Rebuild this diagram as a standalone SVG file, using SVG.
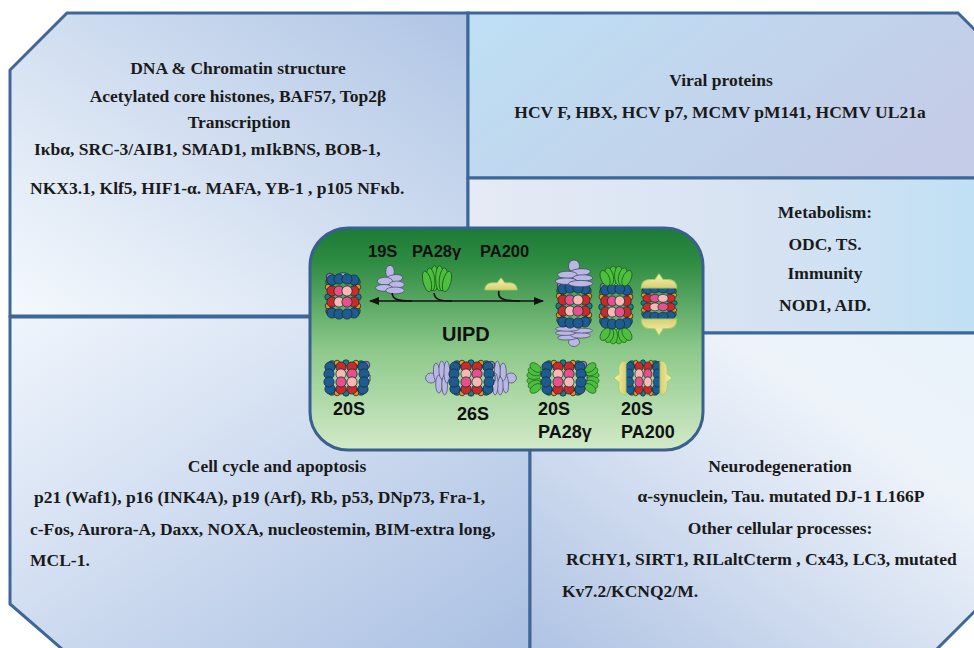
<svg xmlns="http://www.w3.org/2000/svg" width="974" height="648" viewBox="0 0 974 648">
<style>
.panel{stroke:#3d6699;stroke-width:3;stroke-linejoin:miter}
.t{font-family:"Liberation Serif","Times New Roman",serif;font-size:17.5px;font-weight:bold;fill:#1a1a1a}
.c{text-anchor:middle}
.lab{font-family:"Liberation Sans",Arial,sans-serif;font-weight:bold;fill:#111}
.conn{fill:none;stroke:#111;stroke-width:1.6}
</style>
<defs>
<linearGradient id="gDna" x1="0" y1="1" x2="1" y2="0"><stop offset="0" stop-color="#f5f9fd"/><stop offset="1" stop-color="#b0c5e5"/></linearGradient>
<linearGradient id="gViral" x1="0" y1="0" x2="1" y2="0.4"><stop offset="0" stop-color="#bee0f4"/><stop offset="1" stop-color="#c4cce7"/></linearGradient>
<linearGradient id="gMeta" x1="0" y1="0" x2="1" y2="0"><stop offset="0" stop-color="#e6ebf5"/><stop offset="0.55" stop-color="#d6e2f2"/><stop offset="1" stop-color="#bde0f5"/></linearGradient>
<linearGradient id="gCell" x1="0" y1="0" x2="1" y2="1"><stop offset="0" stop-color="#f0f5fc"/><stop offset="1" stop-color="#a9bfe2"/></linearGradient>
<linearGradient id="gNeuro" x1="1" y1="0" x2="0" y2="1"><stop offset="0" stop-color="#e8f2fa"/><stop offset="0.3" stop-color="#eef3fa"/><stop offset="1" stop-color="#aec2e3"/></linearGradient>
<linearGradient id="gGreen" x1="0" y1="0" x2="0" y2="1"><stop offset="0" stop-color="#1b7a36"/><stop offset="0.15" stop-color="#2e8b42"/><stop offset="0.55" stop-color="#8dc98a"/><stop offset="1" stop-color="#d2eac8"/></linearGradient>
<linearGradient id="gYel" x1="0" y1="0" x2="0" y2="1"><stop offset="0" stop-color="#f8f3b4"/><stop offset="1" stop-color="#d9cd72"/></linearGradient>
<marker id="ah" viewBox="0 0 10 10" refX="9" refY="5" markerWidth="10" markerHeight="10" orient="auto-start-reverse" markerUnits="userSpaceOnUse"><path d="M0,1 L10,5 L0,9 z" fill="#111"/></marker>
<g id="core" stroke="#1b2b3b" stroke-width="0.8">
<circle cx="-13" cy="-15" r="4.2" fill="#16807a"/><circle cx="13" cy="-15" r="4.2" fill="#16807a"/>
<circle cx="-13" cy="14" r="4.2" fill="#16807a"/><circle cx="13" cy="14" r="4.2" fill="#16807a"/>
<circle cx="-13" cy="-20" r="3.8" fill="#9d7fc6"/>
<path d="M-3,-24 L3,-24 L2,-16 L-2,-16Z" fill="#9cc8e6"/>
<circle cx="-15" cy="-10" r="2.8" fill="#f0901e"/><circle cx="15" cy="-10" r="2.8" fill="#f0901e"/>
<circle cx="-15" cy="9" r="2.8" fill="#f0901e"/><circle cx="15" cy="9" r="2.8" fill="#f0901e"/>
<circle cx="-15" cy="0" r="3.2" fill="#16807a"/><circle cx="15" cy="0" r="3.2" fill="#16807a"/>
<circle cx="-11" cy="-6" r="5.1" fill="#c92a2a"/><circle cx="11" cy="-6" r="5.1" fill="#c92a2a"/><circle cx="-4" cy="-6" r="5.1" fill="#e8508c"/><circle cx="4" cy="-6" r="5.1" fill="#f7b8b4"/>
<circle cx="-11" cy="5" r="5.1" fill="#c92a2a"/><circle cx="11" cy="5" r="5.1" fill="#c92a2a"/><circle cx="-4" cy="5" r="5.1" fill="#f7b8b4"/><circle cx="4" cy="5" r="5.1" fill="#e8508c"/>
<circle cx="-11" cy="-17" r="5.1" fill="#1d5b90"/><circle cx="11" cy="-17" r="5.1" fill="#1d5b90"/><circle cx="-4" cy="-18" r="5.1" fill="#1d5b90"/><circle cx="4" cy="-18" r="5.1" fill="#1d5b90"/>
<circle cx="-11" cy="16" r="5.1" fill="#1d5b90"/><circle cx="11" cy="16" r="5.1" fill="#1d5b90"/><circle cx="-4" cy="17" r="5.1" fill="#1d5b90"/><circle cx="4" cy="17" r="5.1" fill="#1d5b90"/>
</g>
<g id="lid" fill="#b8b8e2" stroke="#45456a" stroke-width="0.8">
<ellipse cx="0" cy="-25" rx="5" ry="7.5"/>
<ellipse cx="5" cy="-17" rx="10" ry="4.5" transform="rotate(-8 5 -17)"/>
<ellipse cx="-6" cy="-14" rx="9" ry="4.5"/>
<ellipse cx="8" cy="-10" rx="9" ry="4"/>
<ellipse cx="-7" cy="-6" rx="10" ry="4"/>
<ellipse cx="6" cy="-3" rx="11" ry="4"/>
</g>
<g id="pa28" fill="#4cbf3e" stroke="#1c5a1c" stroke-width="0.8">
<ellipse cx="-2.5" cy="-14" rx="3.8" ry="12"/>
<ellipse cx="2.5" cy="-14" rx="3.8" ry="12"/>
<ellipse cx="-6" cy="-13" rx="3.8" ry="11" transform="rotate(-7 -6 -13)"/>
<ellipse cx="6" cy="-13" rx="3.8" ry="11" transform="rotate(7 6 -13)"/>
<ellipse cx="-9.5" cy="-11" rx="3.8" ry="10" transform="rotate(-14 -9.5 -11)"/>
<ellipse cx="9.5" cy="-11" rx="3.8" ry="10" transform="rotate(14 9.5 -11)"/>
</g>
<g id="pa200"><path d="M-17,0 C-17,-5 -13,-6.5 -8,-6.5 L-4,-6.5 L0,-11 L4,-6.5 L8,-6.5 C13,-6.5 17,-5 17,0 Z" fill="url(#gYel)" stroke="#9ccf5a" stroke-width="0.8"/></g>
</defs>

<g id="panel-dna">
<polygon class="panel" points="67,13 468,13 468,316 10,316 10,70" fill="url(#gDna)"/>
<text class="t c" x="238" y="74">DNA &amp; Chromatin structure</text>
<text class="t c" x="238" y="102">Acetylated core histones, BAF57, Top2β</text>
<text class="t c" x="239" y="128">Transcription</text>
<text class="t" x="34" y="155">Iκbα, SRC-3/AIB1, SMAD1, mIkBNS, BOB-1,</text>
<text class="t" x="30" y="194">NKX3.1, Klf5, HIF1-α. MAFA, YB-1 , p105 NFκb.</text>
</g>

<g id="panel-viral">
<polygon class="panel" points="468,13 958,13 1010,65 1010,178 468,178" fill="url(#gViral)"/>
<text class="t c" x="721" y="86">Viral proteins</text>
<text class="t c" x="720" y="118">HCV F, HBX, HCV p7, MCMV pM141, HCMV UL21a</text>
</g>

<g id="panel-metabolism">
<polygon class="panel" points="468,178 1010,178 1010,333 468,333" fill="url(#gMeta)"/>
<text class="t c" x="825" y="218">Metabolism:</text>
<text class="t c" x="825" y="250">ODC, TS.</text>
<text class="t c" x="825" y="279">Immunity</text>
<text class="t c" x="825" y="311">NOD1, AID.</text>
</g>

<g id="panel-cellcycle">
<polygon class="panel" points="10,317 530,317 530,662 77,662 10,604" fill="url(#gCell)"/>
<text class="t c" x="277" y="472">Cell cycle and apoptosis</text>
<text class="t" x="34" y="503">p21 (Waf1), p16 (INK4A), p19 (Arf), Rb, p53, DNp73, Fra-1,</text>
<text class="t" x="30" y="535">c-Fos, Aurora-A, Daxx, NOXA, nucleostemin, BIM-extra long,</text>
<text class="t" x="30" y="566">MCL-1.</text>
</g>

<g id="panel-neuro">
<polygon class="panel" points="530,333 1010,333 1010,576 924,662 530,662" fill="url(#gNeuro)"/>
<text class="t c" x="780" y="472">Neurodegeneration</text>
<text class="t c" x="781" y="502">α-synuclein, Tau. mutated DJ-1 L166P</text>
<text class="t c" x="780" y="534">Other cellular processes:</text>
<text class="t" x="566" y="565">RCHY1, SIRT1, RILaltCterm , Cx43, LC3, mutated</text>
<text class="t" x="562" y="597">Kv7.2/KCNQ2/M.</text>
</g>

<g id="center-box">
<rect x="310" y="228" width="393" height="222" rx="38" ry="38" fill="url(#gGreen)" stroke="#3a6090" stroke-width="3"/>
<g id="top-labels">
<text class="lab" x="368" y="257" font-size="16.5">19S</text>
<text class="lab" x="412" y="257" font-size="16.5">PA28γ</text>
<text class="lab" x="480" y="257" font-size="16.5">PA200</text>
<text class="lab" x="442" y="341" font-size="20">UIPD</text>
</g>
<g id="free-20S"><use href="#core" transform="translate(343,297)"/></g>
<g id="free-19S"><use href="#lid" transform="translate(390,293) scale(0.85)"/></g>
<g id="free-PA28g"><use href="#pa28" transform="translate(437,293) scale(1.05,1.05)"/></g>
<g id="free-PA200"><use href="#pa200" transform="translate(501,290) scale(0.95,1.1)"/></g>

<g id="v-26S">
<use href="#lid" transform="translate(574,327) rotate(180) scale(1.1,0.6)"/>
<use href="#core" transform="translate(574,306)"/>
<use href="#lid" transform="translate(574,286) scale(1.1,0.8)"/>
</g>
<g id="v-20S-PA28g">
<use href="#pa28" transform="translate(616,327) rotate(180) scale(1.15,0.65)"/>
<use href="#core" transform="translate(616,307) scale(0.95,1)"/>
<use href="#pa28" transform="translate(616,287) scale(1.15,0.8)"/>
</g>
<g id="v-20S-PA200">
<use href="#core" transform="translate(659,303) scale(1,0.78)"/>
<use href="#pa200" transform="translate(659,288) scale(1.05,1.3)"/>
<use href="#pa200" transform="translate(659,319) rotate(180) scale(1.05,1.5)"/>
</g>

<g id="h-20S">
<use href="#core" transform="translate(346,378) rotate(90)"/>
<text class="lab" x="333" y="415" font-size="18">20S</text>
</g>
<g id="h-26S">
<use href="#lid" transform="translate(449,378) rotate(-90) scale(1,0.72)"/>
<use href="#lid" transform="translate(493,378) rotate(90) scale(1,0.72)"/>
<use href="#core" transform="translate(471,378) rotate(90)"/>
<text class="lab" x="457" y="420" font-size="18">26S</text>
</g>
<g id="h-20S-PA28g">
<use href="#pa28" transform="translate(542,378) rotate(-90) scale(1.1,0.58)"/>
<use href="#pa28" transform="translate(584,378) rotate(90) scale(1.1,0.58)"/>
<use href="#core" transform="translate(563,378) rotate(90)"/>
<text class="lab" x="538" y="415" font-size="18">20S</text>
<text class="lab" x="538" y="438" font-size="18">PA28γ</text>
</g>
<g id="h-20S-PA200">
<use href="#core" transform="translate(643,378) rotate(90) scale(1,0.8)"/>
<use href="#pa200" transform="translate(626,378) rotate(-90) scale(1,1.1)"/>
<use href="#pa200" transform="translate(660,378) rotate(90) scale(1,1.1)"/>
<text class="lab" x="621" y="415" font-size="18">20S</text>
<text class="lab" x="621" y="438" font-size="18">PA200</text>
</g>
</g>

<g id="connectors">
<line class="conn" x1="370" y1="301" x2="543" y2="301" marker-start="url(#ah)" marker-end="url(#ah)"/>
<path class="conn" d="M392,293 C393,300 398,301 412,301"/>
<path class="conn" d="M434,293 C435,300 440,301 452,301"/>
<path class="conn" d="M499,291 C497,299 504,301 520,301"/>
</g>
</svg>
